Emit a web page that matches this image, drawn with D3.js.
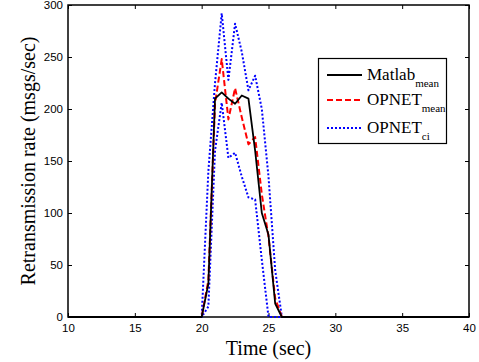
<!DOCTYPE html>
<html><head><meta charset="utf-8">
<script src="https://cdn.jsdelivr.net/npm/d3@7"></script>
<style>body{margin:0;background:#fff}svg{display:block}</style>
</head><body>
<script>
const time = [10, 20, 20.5, 21, 21.5, 22, 22.5, 23, 23.5, 24, 24.5, 25, 25.5, 26, 40];
const matlabMean = [0, 0, 32, 210, 216, 210, 205, 213, 210, 160, 100, 79, 13, 0, 0];
const opnetMean  = [0, 0, 35, 205, 248, 190, 220, 192, 166, 173, 118, 77, 18, 0, 0];
const opnetUpper = [0, 0, 140, 225, 292, 228, 282, 255, 218, 232, 200, 135, 45, 0, 0];
const opnetLower = [0, 0, 10, 160, 206, 153, 158, 135, 115, 113, 55, 0, 0, 0, 0];
const xTicks = [10, 15, 20, 25, 30, 35, 40];
const yTicks = [0, 50, 100, 150, 200, 250, 300];
const legendLabels = [["Matlab","mean"],["OPNET","mean"],["OPNET","ci"]];

const W = 479, H = 362;
const L = 68, R = 469, T = 5, B = 317;
const svg = d3.select("body").append("svg").attr("width", W).attr("height", H);
const x = d3.scaleLinear().domain([10, 40]).range([L, R]);
const y = d3.scaleLinear().domain([0, 300]).range([B, T]);

// box
svg.append("rect").attr("x", L).attr("y", T).attr("width", R - L).attr("height", B - T)
  .attr("fill", "none").attr("stroke", "#000").attr("stroke-width", 1.5);

const tickFont = "'Liberation Sans', Arial, sans-serif";
const ax = svg.append("g").attr("transform", `translate(0,${B})`)
  .call(d3.axisBottom(x).tickValues(xTicks).tickSizeInner(-4).tickSizeOuter(0).tickPadding(7));
const ay = svg.append("g").attr("transform", `translate(${L},0)`)
  .call(d3.axisLeft(y).tickValues(yTicks).tickSizeInner(-4).tickSizeOuter(0).tickPadding(5));
const axT = svg.append("g").attr("transform", `translate(0,${T})`)
  .call(d3.axisTop(x).tickValues(xTicks).tickSizeInner(-4).tickSizeOuter(0).tickFormat(""));
const ayR = svg.append("g").attr("transform", `translate(${R},0)`)
  .call(d3.axisRight(y).tickValues(yTicks).tickSizeInner(-4).tickSizeOuter(0).tickFormat(""));
[ax, ay, axT, ayR].forEach(g => {
  g.select(".domain").remove();
  g.selectAll("line").attr("stroke", "#000");
  g.selectAll("text").attr("font-family", tickFont).attr("font-size", 11.5).attr("fill", "#000");
});

const series = [
  {v: opnetUpper, color: "#0000ff", dash: "2,2", w: 2},
  {v: opnetLower, color: "#0000ff", dash: "2,2", w: 2},
  {v: opnetMean, color: "#ff0000", dash: "6,3", w: 2},
  {v: matlabMean, color: "#000000", dash: null, w: 1.8}
];
const line = d3.line().x(d => x(d[0])).y(d => y(d[1]));
series.forEach(s => {
  svg.append("path").datum(time.map((t, i) => [t, s.v[i]]))
    .attr("d", line).attr("fill", "none").attr("stroke", s.color)
    .attr("stroke-width", s.w).attr("stroke-dasharray", s.dash)
    .attr("stroke-linejoin", "round");
});

// legend
const serif = "'Liberation Serif', 'Times New Roman', serif";
svg.append("rect").attr("x", 318.5).attr("y", 58.5).attr("width", 128).attr("height", 85)
  .attr("fill", "#fff").attr("stroke", "#000").attr("stroke-width", 1.2);
const legStyles = [series[3], series[2], series[0]];
const rowsY = [75, 100, 128];
legStyles.forEach((s, i) => {
  svg.append("line").attr("x1", 327).attr("x2", 362).attr("y1", rowsY[i]).attr("y2", rowsY[i])
    .attr("stroke", s.color).attr("stroke-width", s.w).attr("stroke-dasharray", s.dash);
  const t = svg.append("text").attr("x", 367).attr("y", rowsY[i] + 5)
    .attr("font-family", serif).attr("font-size", 17).attr("fill", "#000");
  t.append("tspan").text(legendLabels[i][0]);
  t.append("tspan").attr("font-size", 11).attr("dy", 7).text(legendLabels[i][1]);
});

// axis titles
svg.append("text").attr("x", (L + R) / 2).attr("y", 355).attr("text-anchor", "middle")
  .attr("font-family", serif).attr("font-size", 20).attr("fill", "#000").text("Time (sec)");
svg.append("text").attr("transform", `translate(35,${(T + B) / 2}) rotate(-90)`)
  .attr("text-anchor", "middle").attr("font-family", serif).attr("font-size", 20)
  .attr("fill", "#000").text("Retransmission rate (msgs/sec)");
</script>
</body></html>
